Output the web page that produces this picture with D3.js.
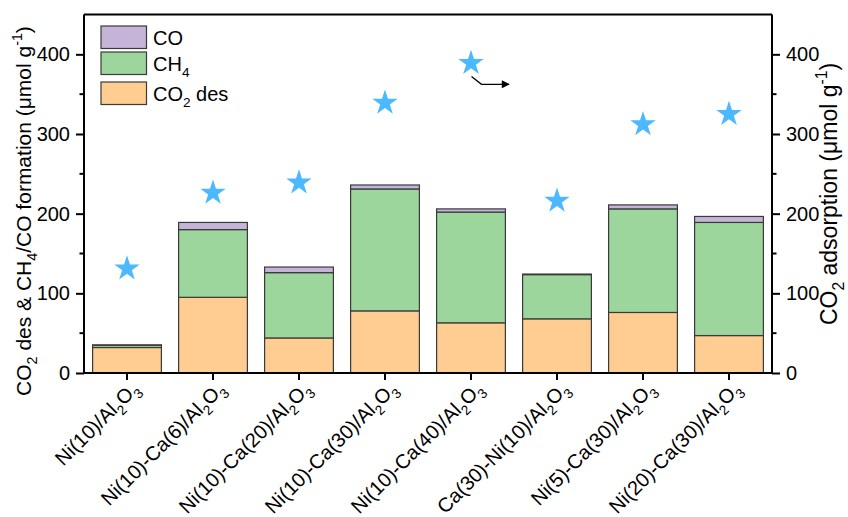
<!DOCTYPE html>
<html>
<head>
<meta charset="utf-8">
<script src="https://cdn.jsdelivr.net/npm/d3@7"></script>
<style>
  html, body { margin: 0; padding: 0; background: #fff; }
  svg { display: block; font-family: "Liberation Sans", Arial, sans-serif; }
</style>
</head>
<body>
<svg id="chart" width="848" height="517"></svg>
<script>
// Catalyst samples (x categories); "_" marks a one-character subscript
const categories = [
  "Ni(10)/Al_2O_3",
  "Ni(10)-Ca(6)/Al_2O_3",
  "Ni(10)-Ca(20)/Al_2O_3",
  "Ni(10)-Ca(30)/Al_2O_3",
  "Ni(10)-Ca(40)/Al_2O_3",
  "Ca(30)-Ni(10)/Al_2O_3",
  "Ni(5)-Ca(30)/Al_2O_3",
  "Ni(20)-Ca(30)/Al_2O_3"
];

// Stacked amounts, µmol g-1 (bottom to top: CO2 desorbed, CH4, CO)
const co2Des = [32, 95, 44, 78, 63, 68, 76, 47];
const ch4    = [2.8, 85, 82, 153, 139, 55.5, 130, 142];
const co     = [0.5, 9, 7, 5, 4, 0.7, 5, 7.5];

// CO2 adsorption capacity, µmol g-1 (right axis, stars)
const co2Ads = [131, 226, 239, 339, 389, 216, 312, 325];

const yTicks = [0, 100, 200, 300, 400];
const yMinorTicks = [50, 150, 250, 350];

const seriesKeys = ["co2", "ch4", "co"];
const seriesColors = { co2: "#ffcc91", ch4: "#9dd69c", co: "#c5b3d8" };
const legendItems = [
  { key: "co",  label: "CO" },
  { key: "ch4", label: "CH_4" },
  { key: "co2", label: "CO_2 des" }
];

const svg = d3.select("#chart");
const plotLeft = 84, plotRight = 772, plotTop = 14.5, plotBottom = 373;
const FS = 20;

// Write a string with "_x" subscripts and "^{...}" superscripts as tspans
function richText(sel, str, size) {
  const parts = [];
  let i = 0, buf = "";
  while (i < str.length) {
    const c = str[i];
    if (c === "_" || c === "^") {
      if (buf) { parts.push({ t: buf, k: "n" }); buf = ""; }
      let s;
      if (str[i + 1] === "{") {
        const j = str.indexOf("}", i);
        s = str.slice(i + 2, j); i = j + 1;
      } else { s = str[i + 1]; i += 2; }
      parts.push({ t: s, k: c === "_" ? "sub" : "sup" });
    } else { buf += c; i++; }
  }
  if (buf) parts.push({ t: buf, k: "n" });
  let shift = 0;
  parts.forEach(p => {
    const target = p.k === "sub" ? size * 0.3 : p.k === "sup" ? -size * 0.42 : 0;
    sel.append("tspan")
      .attr("dy", target - shift)
      .attr("font-size", p.k === "n" ? size : size * 0.68)
      .text(p.t);
    shift = target;
  });
}

const x = d3.scaleBand()
  .domain(categories)
  .range([plotLeft, plotRight])
  .paddingInner(0.2)
  .paddingOuter(0.1);

const y = d3.scaleLinear().domain([0, 450]).range([plotBottom, plotTop]);
const y2 = d3.scaleLinear().domain([0, 450]).range([plotBottom, plotTop]);

const rows = categories.map((c, i) => ({ cat: c, co2: co2Des[i], ch4: ch4[i], co: co[i] }));
const stacked = d3.stack().keys(seriesKeys)(rows);

// Stacked bars
svg.append("g")
  .selectAll("g")
  .data(stacked)
  .join("g")
  .attr("fill", d => seriesColors[d.key])
  .selectAll("rect")
  .data(d => d)
  .join("rect")
  .attr("x", d => x(d.data.cat))
  .attr("width", x.bandwidth())
  .attr("y", d => y(d[1]))
  .attr("height", d => y(d[0]) - y(d[1]))
  .attr("stroke", "#3a3a3a")
  .attr("stroke-width", 1.2);

// Stars for CO2 adsorption
const star = d3.symbol().type(d3.symbolStar).size(200);
svg.append("g")
  .selectAll("path")
  .data(co2Ads)
  .join("path")
  .attr("d", star)
  .attr("fill", "#4cb8ff")
  .attr("transform", (d, i) => `translate(${x(categories[i]) + x.bandwidth() / 2},${y2(d)})`);

// Frame top line
svg.append("line")
  .attr("x1", plotLeft).attr("x2", plotRight)
  .attr("y1", plotTop).attr("y2", plotTop)
  .attr("stroke", "#000").attr("stroke-width", 2);

// Left axis
const gL = svg.append("g").attr("transform", `translate(${plotLeft},0)`);
gL.call(d3.axisLeft(y).tickValues(yTicks).tickSize(8).tickPadding(6).tickSizeOuter(0));
gL.selectAll(".minor").data(yMinorTicks).join("line")
  .attr("class", "minor").attr("x1", -4.5).attr("x2", 0)
  .attr("y1", d => y(d)).attr("y2", d => y(d))
  .attr("stroke", "#000").attr("stroke-width", 2);

// Right axis
const gR = svg.append("g").attr("transform", `translate(${plotRight},0)`);
gR.call(d3.axisRight(y2).tickValues(yTicks).tickSize(8).tickPadding(6).tickSizeOuter(0));
gR.selectAll(".minor").data(yMinorTicks).join("line")
  .attr("class", "minor").attr("x1", 0).attr("x2", 4.5)
  .attr("y1", d => y2(d)).attr("y2", d => y2(d))
  .attr("stroke", "#000").attr("stroke-width", 2);

// Bottom axis
const gB = svg.append("g").attr("transform", `translate(0,${plotBottom})`);
gB.call(d3.axisBottom(x).tickSize(7).tickSizeOuter(0).tickFormat(""));

[gL, gR, gB].forEach(g => {
  g.select(".domain").attr("stroke-width", 2);
  g.selectAll(".tick line").attr("stroke-width", 2);
  g.selectAll("text").attr("font-size", FS).attr("font-family", "Liberation Sans, Arial, sans-serif").attr("fill", "#000");
});
gL.select(".domain").attr("d", `M0,${plotTop}V${plotBottom}`);
gR.select(".domain").attr("d", `M0,${plotTop}V${plotBottom}`);
gB.select(".domain").attr("d", `M${plotLeft - 1},0H${plotRight + 1}`);

// Rotated category labels
categories.forEach(c => {
  const cx = x(c) + x.bandwidth() / 2;
  const t = svg.append("text")
    .attr("text-anchor", "end")
    .attr("transform", `translate(${cx + 13},${plotBottom + 17}) rotate(-45)`)
    .attr("font-size", FS);
  richText(t, c, FS);
});

// Axis titles
const tl = svg.append("text")
  .attr("text-anchor", "middle")
  .attr("transform", `translate(31,211) rotate(-90)`);
richText(tl, "CO_2 des & CH_4/CO formation (μmol g^{-1})", 21);

const tr = svg.append("text")
  .attr("text-anchor", "middle")
  .attr("transform", `translate(837,194) rotate(-90)`);
richText(tr, "CO_2 adsorption (μmol g^{-1})", 23);

// Legend
const lg = svg.append("g");
legendItems.forEach((d, i) => {
  const yy = [26, 52, 82][i];
  lg.append("rect")
    .attr("x", 101).attr("y", yy).attr("width", 45.5).attr("height", 22.5)
    .attr("fill", seriesColors[d.key]).attr("stroke", "#3a3a3a").attr("stroke-width", 1.2);
  const t = lg.append("text").attr("x", 153).attr("y", yy + 18.5).attr("font-size", FS);
  richText(t, d.label, FS);
});

// Arrow pointing the stars to the right axis
svg.append("defs").append("marker")
  .attr("id", "arrowhead").attr("viewBox", "0 0 10 10")
  .attr("refX", 9).attr("refY", 5)
  .attr("markerWidth", 10).attr("markerHeight", 8)
  .attr("markerUnits", "userSpaceOnUse")
  .attr("orient", "auto")
  .append("path").attr("d", "M0,0L10,5L0,10Z").attr("fill", "#000");
svg.append("path")
  .attr("d", "M471.5,76.5L481.5,84.3L509,84.3")
  .attr("fill", "none").attr("stroke", "#000").attr("stroke-width", 1.3)
  .attr("marker-end", "url(#arrowhead)");
</script>
</body>
</html>
